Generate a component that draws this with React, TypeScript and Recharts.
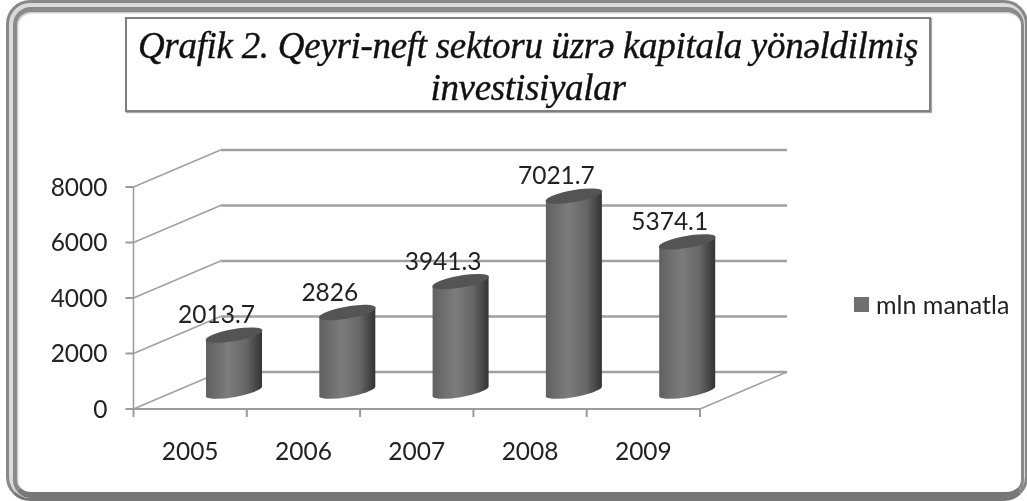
import { BarChart, Bar, XAxis, YAxis, CartesianGrid, Legend, LabelList } from 'recharts';

const YEARS = ['2005', '2006', '2007', '2008', '2009'];
const INVESTMENT = [2013.7, 2826, 3941.3, 7021.7, 5374.1];
const Y_TICKS = [0, 2000, 4000, 6000, 8000];
const SERIES_NAME = 'mln manatla';
const TITLE_LINES = ['Qrafik 2. Qeyri-neft sektoru üzrə kapitala yönəldilmiş', 'investisiyalar'];

const chartData = YEARS.map((year, i) => ({ year, value: INVESTMENT[i] }));

const LABEL_FONT = 'Lato, sans-serif';
const LABEL_SIZE = 24.5;
const AXIS_COLOR = '#9a9a9a';
// depth of the fake 3D box, bars stand half way in
const DEPTH_X = 87;
const DEPTH_Y = -37;
const BAND = 113.3;
const BAR_DX = 43.5;
const BAR_DY = -17;

function GridLine(props: any) {
  const { x1, y1, x2, y2 } = props;
  const isFloor = Math.abs(y1 - 409) < 1;
  return (
    <g key={`grid-${y1}`} fill="none">
      <line x1={x1} y1={y1} x2={x1 + DEPTH_X} y2={y1 + DEPTH_Y} stroke="#a0a0a0" strokeWidth={1.5} />
      <line x1={x1 + DEPTH_X} y1={y1 + DEPTH_Y} x2={x2 + DEPTH_X} y2={y2 + DEPTH_Y} stroke="#a0a0a0" strokeWidth={2.4} />
      {isFloor && (
        <line x1={x2} y1={y2} x2={x2 + DEPTH_X} y2={y2 + DEPTH_Y} stroke="#a0a0a0" strokeWidth={1.5} />
      )}
    </g>
  );
}

function Cylinder(props: any) {
  const { x, y, width, height } = props;
  const cx = x + width / 2 + BAR_DX;
  const left = cx - width / 2;
  const right = cx + width / 2;
  const top = y + BAR_DY - 1;
  const bottom = y + height + BAR_DY;
  const rx = width / 2 + 0.8;
  const ry = 6;
  const tiltY = 5;
  return (
    <g>
      <path
        d={`M${left},${top + tiltY} L${left},${bottom + tiltY} A${rx},${ry} -10 0 0 ${right},${bottom - tiltY} L${right},${top - tiltY} Z`}
        fill="url(#cylinderSide)"
      />
      <ellipse cx={cx} cy={top} rx={rx} ry={ry} transform={`rotate(-10 ${cx} ${top})`} fill="#545454" />
    </g>
  );
}

function BarValue(props: any) {
  const { x, y, width, value } = props;
  return (
    <text x={x + width / 2 + 26} y={y - 30} textAnchor="middle" fontFamily={LABEL_FONT} fontSize={LABEL_SIZE} fill="#222">
      {value}
    </text>
  );
}

function YearTick(props: any) {
  const { x, y, payload, index } = props;
  const edge = x - BAND / 2;
  return (
    <g>
      <line x1={edge} y1={y} x2={edge} y2={y + 8} stroke={AXIS_COLOR} strokeWidth={2} />
      {index === YEARS.length - 1 && (
        <line x1={edge + BAND} y1={y} x2={edge + BAND} y2={y + 8} stroke={AXIS_COLOR} strokeWidth={2} />
      )}
      <text x={x} y={y + 51} textAnchor="middle" fontFamily={LABEL_FONT} fontSize={LABEL_SIZE} fill="#222">
        {payload.value}
      </text>
    </g>
  );
}

function LegendBox() {
  return (
    <div style={{ display: 'flex', alignItems: 'center', fontFamily: LABEL_FONT, fontSize: LABEL_SIZE + 0.5, color: '#222', whiteSpace: 'nowrap' }}>
      <span style={{ width: 15, height: 15, background: '#6f6f6f', marginRight: 7, display: 'inline-block' }} />
      {SERIES_NAME}
    </div>
  );
}

export default function App() {
  return (
    <div style={{ position: 'absolute', left: 0, top: 0, width: 1027, height: 501, overflow: 'hidden', background: '#fff', filter: 'blur(0.5px)' }}>
      {/* frame */}
      <div style={{ position: 'absolute', left: 6, top: 0, width: 1022, height: 501, boxSizing: 'border-box', border: '3px solid #888', borderBottomColor: '#777', borderRadius: 24, background: '#dadada' }}>
        <div style={{ position: 'absolute', left: 4, top: 4, right: 1, bottom: 0, boxSizing: 'border-box', borderTop: '5px solid #8a8a8a', borderLeft: '4px solid #8a8a8a', borderBottom: '6px solid #777', borderRight: '3px solid #8a8a8a', borderRadius: 18, background: '#fff', boxShadow: 'inset 1px 1px 2px #bbb' }} />
      </div>
      {/* title */}
      <div style={{ position: 'absolute', left: 125, top: 17, width: 806, height: 95, boxSizing: 'border-box', border: '2px solid #808080', background: '#fff', boxShadow: '1px 1px 1px #aaa', textAlign: 'center', fontFamily: '"Liberation Serif", serif', fontStyle: 'italic', fontSize: 37, lineHeight: '42px', letterSpacing: -0.3, WebkitTextStroke: '0.4px #111', color: '#111', paddingTop: 6 }}>
        {TITLE_LINES.map((line) => (
          <div key={line} style={{ whiteSpace: 'nowrap' }}>{line}</div>
        ))}
      </div>
      <div style={{ position: 'absolute', left: 0, top: 0 }}>
        <svg width={0} height={0} style={{ position: 'absolute' }}>
          <defs>
            <linearGradient id="cylinderSide" x1="0" y1="0" x2="1" y2="0">
              <stop offset="0%" stopColor="#606060" />
              <stop offset="40%" stopColor="#7c7c7c" />
              <stop offset="72%" stopColor="#666" />
              <stop offset="100%" stopColor="#333" />
            </linearGradient>
          </defs>
        </svg>
        <BarChart
          width={1027}
          height={501}
          data={chartData}
          margin={{ top: 187, right: 157, bottom: 52, left: 73.5 }}
          barSize={56}
        >
          <CartesianGrid vertical={false} horizontal={GridLine as any} />
          <XAxis
            dataKey="year"
            height={40}
            axisLine={{ stroke: AXIS_COLOR, strokeWidth: 2 }}
            tickLine={false}
            tickSize={0}
            tickMargin={0}
            tick={YearTick as any}
            interval={0}
          />
          <YAxis
            width={60}
            domain={[0, 8000]}
            ticks={Y_TICKS}
            axisLine={{ stroke: AXIS_COLOR, strokeWidth: 1.5 }}
            tickLine={{ stroke: AXIS_COLOR, strokeWidth: 2 }}
            tickSize={8}
            tickMargin={18}
            tick={{ fontFamily: LABEL_FONT, fontSize: LABEL_SIZE, fill: '#222' }}
          />
          <Legend
            content={LegendBox as any}
            layout="vertical"
            verticalAlign="top"
            align="right"
            width={170}
            wrapperStyle={{ left: 854, right: 'auto', top: 289, width: 170 }}
          />
          <Bar dataKey="value" name={SERIES_NAME} fill="#6f6f6f" shape={Cylinder as any} isAnimationActive={false}>
            <LabelList dataKey="value" content={BarValue as any} />
          </Bar>
        </BarChart>
      </div>
    </div>
  );
}
